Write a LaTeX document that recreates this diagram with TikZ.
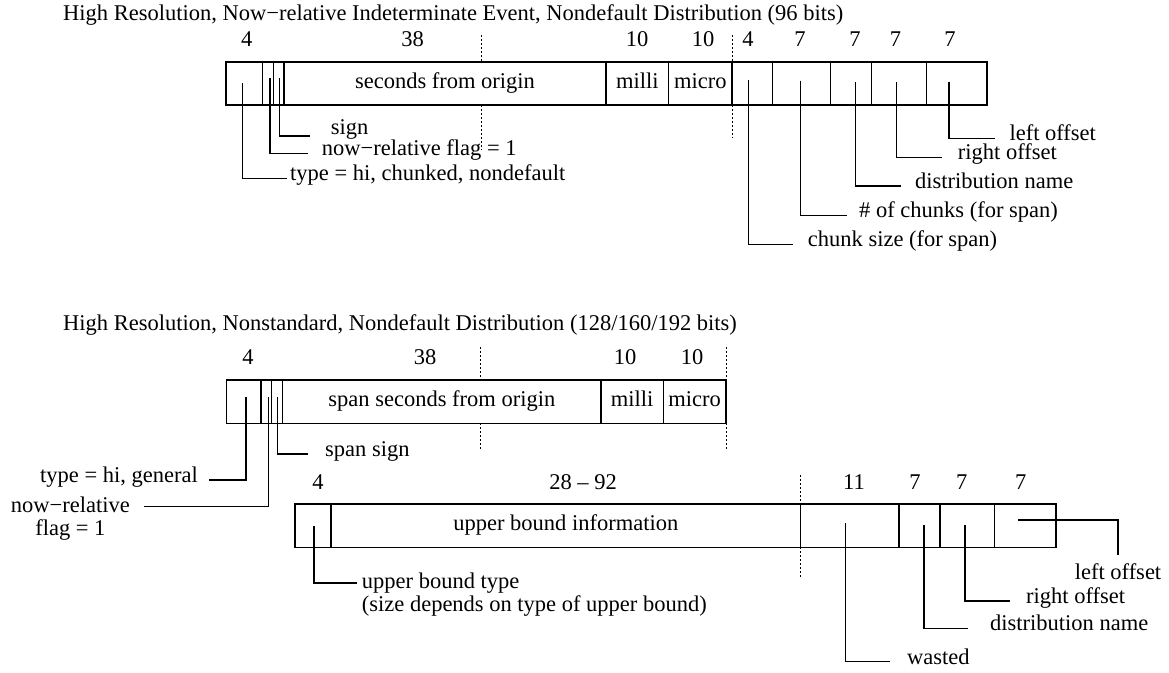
\documentclass[tikz,border=0pt]{standalone}
\usepackage{fontspec}
\setmainfont{Liberation Serif}
\newcommand{\fieldcell}[6]{\node[cell, minimum width={(#3-#2)*1pt}, minimum height={(#5-#4)*1pt}] (#1) at ({(#2+#3)/2},{(#4+#5)/2}) {#6};}
\begin{document}
\begin{tikzpicture}[x=1pt,y=-1pt,
  every node/.append style={font=\fontsize{22.5pt}{23pt}\selectfont},
  cell/.style={draw, line width=1.25pt, inner sep=0pt, text height=15pt, text depth=5pt},
  conn/.style={line width=1.1pt},
  guide/.style={line width=1pt, dash pattern=on 2pt off 2pt},
  lab/.style={inner sep=0pt, anchor=mid west},
  labr/.style={inner sep=0pt, anchor=mid east},
  num/.style={inner sep=0pt, anchor=base},
  ttl/.style={inner sep=0pt, anchor=base west}]
\useasboundingbox (0,0) rectangle (1169,672);

% ---------------- Diagram 1 ----------------
\node[ttl] (t1) at (63,20) {High Resolution, Now−relative Indeterminate Event, Nondefault Distribution (96 bits)};

\node[num] (n1a) at (246.7,46.5) {4};
\node[num] (n1b) at (412.5,46.5) {38};
\node[num] (n1c) at (637,46.5) {10};
\node[num] (n1d) at (703,46.5) {10};
\node[num] (n1e) at (748,46.5) {4};
\node[num] (n1f) at (800,46.5) {7};
\node[num] (n1g) at (855,46.5) {7};
\node[num] (n1h) at (895.5,46.5) {7};
\node[num] (n1i) at (950,46.5) {7};

\fieldcell{c1}{226}{262.7}{62}{105}{}
\fieldcell{c2}{262.7}{273.3}{62}{105}{}
\fieldcell{c3}{273.3}{284}{62}{105}{}
\fieldcell{c4}{284}{606}{62}{105}{seconds from origin}
\fieldcell{c5}{606}{668.5}{62}{105}{milli}
\fieldcell{c6}{668.5}{732}{62}{105}{micro}
\fieldcell{c7}{732}{772.7}{62}{105}{}
\fieldcell{c8}{772.7}{830.5}{62}{105}{}
\fieldcell{c9}{830.5}{871.7}{62}{105}{}
\fieldcell{c10}{871.7}{926.7}{62}{105}{}
\fieldcell{c11}{926.7}{987}{62}{105}{}

\draw[guide] (481,35) -- (481,62);
\draw[guide] (481,105) -- (481,150);
\draw[guide] (732,35) -- (732,62);
\draw[guide] (732,105) -- (732,138);

\coordinate (p1) at (242.7,83.3);
\coordinate (p2) at (270,78.3);
\coordinate (p3) at (279.3,78.3);
\coordinate (p4) at (748.3,80);
\coordinate (p5) at (800.7,80.7);
\coordinate (p6) at (855.7,82);
\coordinate (p7) at (896.7,82);
\coordinate (p8) at (949,82);

\node[lab] (l1) at (290,178.3) {type = hi, chunked, nondefault};
\node[lab] (l2) at (321.7,153.3) {now−relative flag = 1};
\node[lab] (l3) at (330.7,132) {sign};
\node[lab] (l4) at (807.7,244.3) {chunk size (for span)};
\node[lab] (l5) at (859,215.7) {\# of chunks (for span)};
\node[lab] (l6) at (915,186) {distribution name};
\node[lab] (l7) at (957.7,157.7) {right offset};
\node[lab] (l8) at (1009.3,138.3) {left offset};

\draw[conn, shorten >=3.3pt] (p1) |- (l1.mid west);
\draw[conn, shorten >=13.4pt] (p2) |- (l2.mid west);
\draw[conn] (p3) |- (310,136);
\draw[conn, shorten >=14.7pt] (p4) |- (l4.mid west);
\draw[conn, shorten >=12.3pt] (p5) |- (l5.mid west);
\draw[conn, shorten >=14.3pt] (p6) |- (l6.mid west);
\draw[conn, shorten >=16pt] (p7) |- (l7.mid west);
\draw[conn, shorten >=14.3pt] (p8) |- (l8.mid west);

% ---------------- Diagram 2 ----------------
\node[ttl] (t2) at (63,330) {High Resolution, Nonstandard, Nondefault Distribution (128/160/192 bits)};

\node[num] (n2a) at (248,364) {4};
\node[num] (n2b) at (425,364) {38};
\node[num] (n2c) at (625,364) {10};
\node[num] (n2d) at (692,364) {10};

\fieldcell{d1}{226.7}{261}{380}{423.3}{}
\fieldcell{d2}{261}{271.7}{380}{423.3}{}
\fieldcell{d3}{271.7}{282.7}{380}{423.3}{}
\fieldcell{d4}{282.7}{601}{380}{423.3}{span seconds from origin}
\fieldcell{d5}{601}{663.3}{380}{423.3}{milli}
\fieldcell{d6}{663.3}{726}{380}{423.3}{micro}

\draw[guide] (480,347) -- (480,380);
\draw[guide] (480,423.3) -- (480,450);
\draw[guide] (726,347) -- (726,380);
\draw[guide] (726,423.3) -- (726,450);

\coordinate (r1) at (246,397);
\coordinate (r2) at (268.3,397);
\coordinate (r3) at (277.3,397);
\coordinate (r2end) at (144,506.7);

\node[labr] (m1) at (198,480) {type = hi, general};
\node[inner sep=0pt, anchor=north east, align=center] (m2) at (130,496.7) {now−relative\\flag = 1};
\node[lab] (m3) at (325,454) {span sign};

\draw[conn, shorten >=11.3pt] (r1) |- (m1.mid east);
\draw[conn] (r2) |- (r2end);
\draw[conn, shorten >=17pt] (r3) |- (m3.mid west);

% ---------------- Diagram 3 ----------------
\node[num] (n3a) at (318,489) {4};
\node[num] (n3b) at (583,489) {28 – 92};
\node[num] (n3c) at (854,489) {11};
\node[num] (n3d) at (915,489) {7};
\node[num] (n3e) at (961.7,489) {7};
\node[num] (n3f) at (1020.7,489) {7};

\fieldcell{e1}{295}{331}{504}{547.3}{}
\fieldcell{e2}{331}{800.7}{504}{547.3}{upper bound information}
\fieldcell{e3}{800.7}{899}{504}{547.3}{}
\fieldcell{e4}{899}{940}{504}{547.3}{}
\fieldcell{e5}{940}{994.3}{504}{547.3}{}
\fieldcell{e6}{994.3}{1056}{504}{547.3}{}

\draw[guide] (800.7,475) -- (800.7,504);
\draw[guide] (800.7,547.3) -- (800.7,577);

\coordinate (q1) at (314,526);
\coordinate (q1end) at (356.7,583);
\coordinate (q3) at (845.7,523);
\coordinate (q4) at (924,525);
\coordinate (q5) at (965,525);
\coordinate (q6) at (1018.3,520);

\node[inner sep=0pt, anchor=north west, align=left] (k1) at (361.7,573) {upper bound type\\(size depends on type of upper bound)};
\node[lab] (k3) at (907,661.7) {wasted};
\node[lab] (k4) at (990,628.3) {distribution name};
\node[lab] (k5) at (1026,601) {right offset};
\node[num] (k6) at (1118,579) {left offset};

\draw[conn] (q1) |- (q1end);
\draw[conn, shorten >=17pt] (q3) |- (k3.mid west);
\draw[conn, shorten >=21.7pt] (q4) |- (k4.mid west);
\draw[conn, shorten >=16pt] (q5) |- (k5.mid west);
\draw[conn, shorten >=8pt] (q6) -| (k6.north);
\end{tikzpicture}
\end{document}
